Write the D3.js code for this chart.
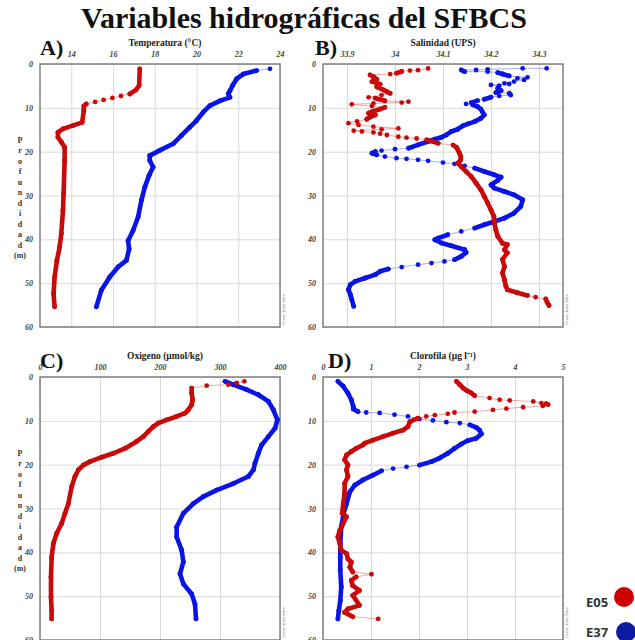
<!DOCTYPE html>
<html>
<head>
<meta charset="utf-8">
<script src="https://cdn.jsdelivr.net/npm/d3@7"></script>
<style>
  html, body { margin: 0; padding: 0; background: #fff; }
  svg { display: block; }
</style>
</head>
<body>
<svg id="chart" width="635" height="640"></svg>
<script>
// ---- Profile data: [depth (m), value] ----
const stations = ["E05", "E37"];

const depthTicks = [0, 10, 20, 30, 40, 50, 60];
const tempTicks = [14, 16, 18, 20, 22, 24];
const salTicks = [33.9, 34, 34.1, 34.2, 34.3];
const oxyTicks = [0, 100, 200, 300, 400];
const chlTicks = [0, 1, 2, 3, 4, 5];

// Temperature (°C)
const tempE05 = [
  [1.1, 17.28], [4.9, 17.25], [5.9, 17.1], [6.84, 16.8], [7.3, 16.38], [7.75, 15.97],
  [8.2, 15.55], [8.66, 15.14], [9.11, 14.72], [9.6, 14.6], [10.6, 14.6], [13.3, 14.52],
  [14.0, 14.1], [14.8, 13.6], [15.6, 13.36], [16.7, 13.36], [17.8, 13.52], [19.0, 13.68],
  [22.0, 13.68], [29.6, 13.63], [33.4, 13.6], [38.7, 13.52], [41.8, 13.44], [44.8, 13.31],
  [48.6, 13.2], [52.4, 13.15], [55.4, 13.2]
];
const tempE37 = [
  [1.1, 23.52], [1.5, 22.88], [2.3, 22.24], [3.4, 21.92], [4.9, 21.73], [6.1, 21.6],
  [6.8, 21.52], [7.6, 21.6], [8.4, 21.12], [9.5, 20.64], [11.0, 20.32], [12.9, 20.0],
  [14.4, 19.68], [16.3, 19.28], [18.2, 18.88], [19.7, 18.24], [20.9, 17.76], [22.0, 17.76],
  [23.5, 17.92], [25.4, 17.73], [28.1, 17.52], [31.1, 17.36], [34.9, 17.2], [38.0, 16.96],
  [40.3, 16.72], [42.2, 16.77], [44.8, 16.64], [46.3, 16.24], [48.6, 15.84], [51.6, 15.44],
  [55.4, 15.2]
];

// Salinity (UPS)
const salE05 = [
  [1.0, 34.069], [1.4, 34.048], [1.5, 34.031], [1.7, 34.014], [2.1, 34.003], [2.3, 33.990],
  [2.5, 33.948], [2.9, 33.955], [3.5, 33.962], [4.0, 33.952], [4.6, 33.969], [5.2, 33.962],
  [5.9, 33.976], [6.3, 33.983], [6.7, 33.990], [7.1, 33.972], [7.6, 33.945], [7.8, 33.959],
  [8.4, 33.979], [8.6, 34.028], [8.8, 34.014], [9.0, 33.955], [9.2, 33.910], [9.6, 33.952],
  [9.9, 33.979], [10.3, 33.969], [10.9, 33.952], [11.2, 33.945], [11.6, 33.959], [12.1, 33.948],
  [12.6, 33.941], [13.1, 33.921], [13.5, 33.903], [13.9, 33.924], [14.3, 33.955], [14.7, 34.007],
  [14.9, 33.972], [15.2, 33.914], [15.4, 33.931], [15.6, 33.955], [15.9, 33.969], [16.2, 33.983],
  [16.6, 34.007], [16.8, 34.024], [17.0, 34.045], [17.3, 34.066], [17.7, 34.079], [18.1, 34.090],
  [18.5, 34.121], [19.0, 34.128], [19.6, 34.131], [20.3, 34.134], [21.1, 34.137], [21.9, 34.137],
  [22.6, 34.131], [23.4, 34.138], [24.5, 34.148], [25.7, 34.159], [27.2, 34.169], [28.7, 34.179],
  [30.2, 34.186], [31.7, 34.193], [33.3, 34.200], [34.8, 34.206], [36.3, 34.207], [37.8, 34.210],
  [39.3, 34.214], [40.9, 34.224], [41.2, 34.234], [42.4, 34.228], [43.1, 34.234], [44.6, 34.224],
  [46.2, 34.228], [47.7, 34.224], [49.2, 34.228], [50.7, 34.231], [51.5, 34.234], [52.2, 34.255],
  [52.8, 34.276], [53.2, 34.293], [53.6, 34.314], [54.4, 34.317], [55.1, 34.321]
];
const salE37 = [
  [0.99, 34.316], [0.99, 34.266], [1.21, 34.193], [1.37, 34.169], [1.37, 34.138], [1.75, 34.145],
  [1.75, 34.193], [1.97, 34.214], [2.28, 34.224], [2.73, 34.238], [3.04, 34.276], [3.27, 34.255],
  [3.64, 34.269], [4.02, 34.248], [4.40, 34.228], [4.56, 34.238], [4.78, 34.200], [5.01, 34.217],
  [5.54, 34.214], [6.07, 34.221], [6.53, 34.210], [6.68, 34.238], [7.06, 34.241], [7.29, 34.217],
  [7.59, 34.200], [8.05, 34.186], [8.35, 34.172], [8.81, 34.159], [9.11, 34.148], [9.34, 34.162],
  [9.72, 34.172], [10.33, 34.179], [11.09, 34.183], [11.62, 34.186], [12.38, 34.179], [13.14, 34.166],
  [13.67, 34.152], [14.12, 34.141], [14.88, 34.131], [15.41, 34.117], [16.17, 34.107], [16.70, 34.097],
  [17.16, 34.083], [17.69, 34.069], [18.45, 34.048], [19.21, 34.028], [19.44, 34.000], [19.74, 33.972],
  [19.97, 33.959], [20.35, 33.952], [20.73, 33.962], [21.11, 33.979], [21.49, 34.003], [21.64, 34.024],
  [21.87, 34.048], [22.10, 34.069], [22.48, 34.100], [22.78, 34.124], [23.23, 34.145], [23.77, 34.166],
  [24.53, 34.186], [25.28, 34.207], [25.82, 34.221], [26.58, 34.214], [27.56, 34.200], [28.32, 34.207],
  [29.08, 34.228], [29.84, 34.248], [30.98, 34.266], [32.50, 34.262], [34.02, 34.248], [35.16, 34.228],
  [35.92, 34.207], [36.67, 34.186], [37.43, 34.166], [38.19, 34.138], [38.95, 34.110], [39.71, 34.090],
  [40.09, 34.083], [40.85, 34.097], [41.46, 34.117], [42.37, 34.145], [42.98, 34.148], [43.89, 34.138],
  [44.65, 34.124], [45.03, 34.103], [45.41, 34.076], [45.79, 34.048], [46.32, 34.014], [46.77, 33.986],
  [47.30, 33.969], [48.06, 33.959], [48.82, 33.938], [49.58, 33.917], [50.34, 33.907], [51.48, 33.903],
  [52.62, 33.907], [53.76, 33.910], [55.28, 33.914]
];

// Dissolved oxygen (µmol/kg)
const oxyE05 = [
  [0.99, 340.6], [1.37, 327.8], [1.76, 313.9], [1.98, 277.8], [2.52, 252.8], [3.66, 252.8],
  [5.19, 254.4], [6.34, 252.8], [7.48, 247.2], [8.24, 241.7], [9.0, 227.8], [9.77, 211.1],
  [10.5, 197.2], [11.3, 188.9], [12.4, 180.6], [13.6, 172.2], [14.7, 161.1], [16.3, 141.7],
  [17.4, 122.2], [18.3, 102.8], [19.3, 83.3], [20.1, 72.2], [21.2, 63.9], [22.7, 58.3],
  [25.0, 52.8], [28.9, 47.2], [31.1, 41.7], [33.4, 36.1], [35.7, 27.8], [38.0, 22.2],
  [41.1, 19.4], [45.6, 18.3], [50.2, 18.3], [53.3, 19.4], [55.2, 19.4]
];
const oxyE37 = [
  [0.99, 308.3], [1.76, 322.2], [2.90, 344.4], [4.05, 363.9], [5.57, 380.6], [7.48, 388.9],
  [9.77, 395.6], [11.7, 391.7], [13.6, 380.6], [15.5, 369.4], [17.4, 363.9], [19.7, 358.3],
  [21.2, 355.6], [22.7, 347.2], [24.3, 322.2], [25.8, 294.4], [27.3, 272.2], [28.9, 255.6],
  [31.1, 238.9], [34.2, 227.8], [36.5, 227.8], [39.5, 236.1], [42.2, 238.9], [44.9, 233.3],
  [47.2, 238.9], [49.5, 252.8], [51.8, 258.3], [55.2, 260.0]
];

// Chlorophyll (µg l-1)
const chlE05 = [
  [0.99, 2.78], [1.76, 2.85], [2.52, 2.92], [3.05, 2.99], [3.66, 3.09], [4.27, 3.16],
  [4.81, 3.47], [5.19, 3.68], [5.34, 3.89], [5.57, 4.38], [5.95, 4.55], [6.1, 4.65],
  [6.3, 4.69], [6.6, 4.58], [6.9, 4.17], [7.2, 3.82], [7.5, 3.54], [7.9, 3.16],
  [8.1, 2.74], [8.4, 2.60], [8.7, 2.33], [9.0, 2.15], [9.4, 1.98], [10.2, 1.81],
  [11.3, 1.77], [12.1, 1.67], [12.8, 1.46], [13.6, 1.25], [14.4, 1.04], [15.1, 0.87],
  [15.5, 0.83], [16.3, 0.69], [17.0, 0.59], [17.8, 0.49], [18.9, 0.45], [20.1, 0.52],
  [21.2, 0.49], [22.7, 0.52], [24.3, 0.45], [26.6, 0.45], [28.9, 0.42], [31.1, 0.40],
  [31.9, 0.49], [33.4, 0.42], [35.0, 0.35], [36.5, 0.31], [38.0, 0.35], [39.5, 0.38],
  [40.3, 0.49], [41.5, 0.52], [42.2, 0.59], [43.4, 0.56], [44.5, 0.62], [45.0, 1.01],
  [45.6, 0.69], [46.4, 0.59], [47.6, 0.62], [48.7, 0.76], [49.8, 0.62], [52.1, 0.76],
  [52.9, 0.52], [53.7, 0.45], [54.7, 0.62], [55.2, 1.15]
];
const chlE37 = [
  [0.99, 0.31], [2.1, 0.42], [3.7, 0.52], [5.2, 0.59], [6.7, 0.63], [7.3, 0.63],
  [7.9, 0.73], [8.1, 0.90], [8.2, 1.18], [8.6, 1.49], [9.0, 1.77], [9.6, 2.01],
  [9.9, 2.29], [10.3, 2.57], [10.5, 2.85], [10.9, 3.06], [11.5, 3.19], [12.1, 3.26],
  [13.0, 3.30], [14.0, 3.19], [14.5, 3.02], [15.3, 2.88], [16.3, 2.74], [17.4, 2.60],
  [18.5, 2.43], [19.3, 2.26], [20.1, 2.01], [20.5, 1.74], [20.9, 1.46], [21.4, 1.22],
  [22.4, 1.04], [23.5, 0.83], [24.7, 0.66], [26.2, 0.56], [28.9, 0.49], [31.1, 0.43],
  [34.2, 0.38], [38.0, 0.36], [41.1, 0.36], [44.1, 0.36], [47.9, 0.38], [51.0, 0.36],
  [53.3, 0.33], [55.2, 0.31]
];

// ---- Layout ----
const colors = { E05: "#c80a0a", E37: "#0a14e6" };
const legendColors = { E05: "#d00000", E37: "#0c1aa0" };

const panels = [
  { letter: "A)", title: "Temperatura (°C)", domain: [12.5, 24], ticks: tempTicks,
    x0: 40, x1: 280, y0: 64, y1: 327, e05: tempE05, e37: tempE37, letterX: 40, showDepthLabel: true },
  { letter: "B)", title: "Salinidad (UPS)", domain: [33.85, 34.35], ticks: salTicks,
    x0: 323, x1: 563, y0: 64, y1: 327, e05: salE05, e37: salE37, letterX: 315, showDepthLabel: false },
  { letter: "C)", title: "Oxigeno (µmol/kg)", domain: [0, 400], ticks: oxyTicks,
    x0: 40, x1: 280, y0: 377, y1: 640, e05: oxyE05, e37: oxyE37, letterX: 40, showDepthLabel: true },
  { letter: "D)", title: "Clorofila (µg l\u207B\u00B9)", domain: [0, 5], ticks: chlTicks,
    x0: 323, x1: 563, y0: 377, y1: 640, e05: chlE05, e37: chlE37, letterX: 328, showDepthLabel: false }
];

const svg = d3.select("#chart");
const serif = "'Liberation Serif', 'Times New Roman', serif";

svg.append("text")
  .attr("x", 304).attr("y", 28)
  .attr("text-anchor", "middle")
  .attr("font-family", serif).attr("font-weight", 700).attr("font-size", 30)
  .attr("fill", "#111")
  .text("Variables hidrográficas del SFBCS");

// A step is drawn as a thin connector when it jumps mostly sideways;
// otherwise consecutive samples merge into a thick trace.
function isJump([a, b]) {
  const dx = Math.abs(b[0] - a[0]), dy = Math.abs(b[1] - a[1]);
  return dx > 3 && dx > 4 * dy;
}

function drawProfile(g, data, color, x, y) {
  const pts = data.map(([d, v]) => [x(v), y(d)]);
  const segs = d3.pairs(pts);
  g.append("g").selectAll("line").data(segs).join("line")
    .attr("x1", s => s[0][0]).attr("y1", s => s[0][1])
    .attr("x2", s => s[1][0]).attr("y2", s => s[1][1])
    .attr("stroke", color)
    .attr("stroke-width", s => isJump(s) ? 0.7 : 4.6)
    .attr("stroke-opacity", s => isJump(s) ? 0.5 : 1)
    .attr("stroke-linecap", "round");
  g.append("g").selectAll("circle").data(pts).join("circle")
    .attr("cx", p => p[0]).attr("cy", p => p[1])
    .attr("r", 2.4).attr("fill", color);
}

panels.forEach(p => {
  const x = d3.scaleLinear().domain(p.domain).range([p.x0, p.x1]);
  const y = d3.scaleLinear().domain([0, 60]).range([p.y0, p.y1]);
  const g = svg.append("g");
  const w = p.x1 - p.x0, h = p.y1 - p.y0;

  // grid
  const gx = g.append("g").attr("transform", `translate(0,${p.y0})`)
    .call(d3.axisTop(x).tickValues(p.ticks).tickSize(-h).tickFormat(""));
  const gy = g.append("g").attr("transform", `translate(${p.x0},0)`)
    .call(d3.axisLeft(y).tickValues(depthTicks).tickSize(-w).tickFormat(""));
  [gx, gy].forEach(a => {
    a.select(".domain").remove();
    a.selectAll("line").attr("stroke", "#d9d9d9").attr("stroke-width", 1);
  });

  // tick labels
  const lx = g.append("g").attr("transform", `translate(0,${p.y0})`)
    .call(d3.axisTop(x).tickValues(p.ticks).tickSize(0).tickPadding(7).tickFormat(d3.format("")));
  const ly = g.append("g").attr("transform", `translate(${p.x0},0)`)
    .call(d3.axisLeft(y).tickValues(depthTicks).tickSize(0).tickPadding(7));
  [lx, ly].forEach(a => {
    a.select(".domain").remove();
    a.selectAll("text")
      .attr("font-family", serif).attr("font-style", "italic").attr("font-weight", 700)
      .attr("font-size", 8).attr("fill", "#444");
  });

  // frame
  g.append("rect")
    .attr("x", p.x0).attr("y", p.y0).attr("width", w).attr("height", h)
    .attr("fill", "none").attr("stroke", "#808080").attr("stroke-width", 1.5);

  // profiles
  const clipId = "clip" + p.letter[0];
  g.append("clipPath").attr("id", clipId).append("rect")
    .attr("x", p.x0).attr("y", p.y0).attr("width", w).attr("height", h);
  const plot = g.append("g").attr("clip-path", `url(#${clipId})`);
  drawProfile(plot, p.e37, colors.E37, x, y);
  drawProfile(plot, p.e05, colors.E05, x, y);

  // titles
  g.append("text")
    .attr("x", (p.x0 + p.x1) / 2 + (p.x0 < 100 ? 5 : 0)).attr("y", p.y0 - 18)
    .attr("text-anchor", "middle")
    .attr("font-family", serif).attr("font-weight", 700).attr("font-size", 9.5)
    .attr("fill", "#222").text(p.title);
  g.append("text")
    .attr("x", p.letterX).attr("y", p.y0 - 9)
    .attr("font-family", serif).attr("font-weight", 700).attr("font-size", 22)
    .attr("fill", "#111").text(p.letter);

  // software credit along the right edge
  g.append("text")
    .attr("transform", `translate(${p.x1 + 5},${p.y0 + 261}) rotate(-90)`)
    .attr("font-family", "'DejaVu Sans', sans-serif").attr("font-size", 3.6)
    .attr("fill", "#888").text("Ocean Data View");

  if (p.showDepthLabel) {
    const letters = ["P", "r", "o", "f", "u", "n", "d", "i", "d", "a", "d", "(m)"];
    g.append("g").selectAll("text").data(letters).join("text")
      .attr("x", 20).attr("y", (d, i) => p.y0 + 79 + i * 10.45)
      .attr("text-anchor", "middle")
      .attr("font-family", serif).attr("font-weight", 700).attr("font-size", 8)
      .attr("fill", "#333").text(d => d);
  }
});

// legend
const legendRows = [
  { name: stations[0], ty: 607, cx: 624, cy: 597 },
  { name: stations[1], ty: 637, cx: 626, cy: 632 }
];
const lg = svg.append("g");
legendRows.forEach(r => {
  lg.append("text")
    .attr("x", 586).attr("y", r.ty)
    .attr("font-family", "'Open Sans', sans-serif").attr("font-weight", 700).attr("font-size", 13)
    .attr("fill", "#333").text(r.name);
  lg.append("circle")
    .attr("cx", r.cx).attr("cy", r.cy).attr("r", 10)
    .attr("fill", legendColors[r.name]);
});
</script>
</body>
</html>
